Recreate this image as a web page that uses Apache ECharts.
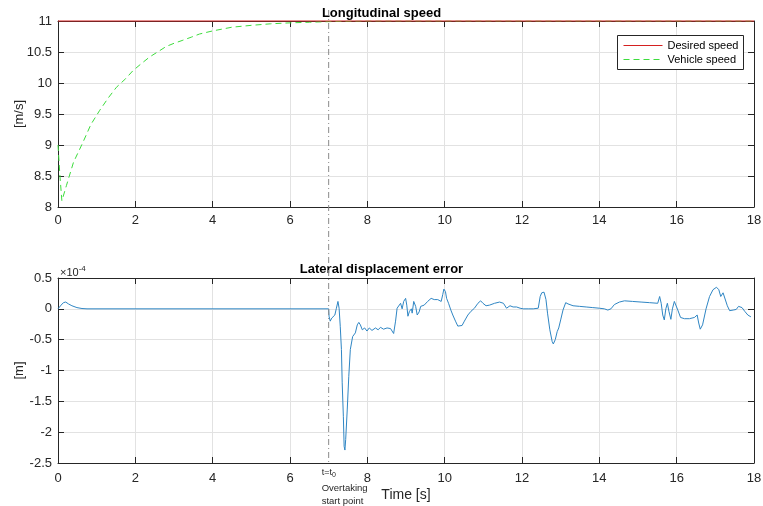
<!DOCTYPE html>
<html><head><meta charset="utf-8">
<script src="https://cdn.jsdelivr.net/npm/echarts@6/dist/echarts.min.js"></script>
<style>html,body{margin:0;padding:0;background:#fff}#c{width:763px;height:506px}</style>
</head><body><div id="c"></div>
<script>
// ---- data ----
const speedTime = [0, 0.05, 0.1, 0.22, 0.4, 0.65, 0.85, 1.08, 1.3, 1.51, 1.75, 1.94, 2.15, 2.37, 2.6, 2.8, 3.0, 3.23, 3.45, 3.66, 4.0, 4.5, 5.0, 5.5, 6.0, 6.5, 7.0, 8, 18];
const vehicleSpeed = [9.0, 8.5, 8.1, 8.35, 8.72, 9.05, 9.33, 9.56, 9.76, 9.93, 10.07, 10.2, 10.31, 10.42, 10.51, 10.59, 10.64, 10.69, 10.74, 10.79, 10.84, 10.9, 10.93, 10.955, 10.97, 10.98, 10.99, 11.0, 11.0];
const desiredTime = [0, 18];
const desiredSpeed = [11, 11];
const legendNames = ['Desired speed', 'Vehicle speed'];

const latTime = [
  0, 0.08, 0.14, 0.2, 0.27, 0.36, 0.49, 0.62, 0.75,
  7.0, 7.01, 7.04, 7.08, 7.12, 7.16, 7.2, 7.24, 7.27, 7.3,
  7.33, 7.35, 7.38, 7.4, 7.42, 7.44, 7.48, 7.52, 7.56, 7.62,
  7.69, 7.74, 7.78, 7.82, 7.87, 7.93, 7.99, 8.05, 8.12, 8.21,
  8.28, 8.34, 8.42, 8.51, 8.6, 8.68, 8.73, 8.77, 8.82, 8.86,
  8.9, 8.94, 8.99, 9.02, 9.05, 9.09, 9.14, 9.16, 9.2, 9.22,
  9.25, 9.29, 9.34, 9.38, 9.47, 9.56, 9.65, 9.73, 9.82, 9.91,
  9.95, 9.98, 10.02, 10.05, 10.1, 10.16, 10.21, 10.28, 10.34, 10.38,
  10.45, 10.51, 10.6, 10.68, 10.77, 10.86, 10.93, 10.99, 11.07, 11.16,
  11.29, 11.42, 11.52, 11.6, 11.69, 11.77, 11.86, 11.95, 12.03, 12.16,
  12.29, 12.42, 12.47, 12.51, 12.54, 12.57, 12.62, 12.66, 12.72, 12.78,
  12.81, 12.86, 12.91, 12.95, 13.0, 13.06, 13.13, 13.19, 13.32, 13.49,
  13.66, 13.83, 14.0, 14.13, 14.22, 14.3, 14.39, 14.52, 14.65, 14.86,
  15.08, 15.3, 15.51, 15.56, 15.58, 15.6, 15.64, 15.68, 15.72, 15.76,
  15.8, 15.85, 15.89, 15.94, 15.98, 16.03, 16.1, 16.2, 16.33, 16.46,
  16.53, 16.57, 16.61, 16.67, 16.76, 16.85, 16.94, 17.03, 17.09, 17.14,
  17.2, 17.24, 17.31, 17.37, 17.46, 17.54, 17.6, 17.69, 17.76, 17.84, 17.92
];
// lateral displacement error, in units of 1e-4 m
const latError = [
  0, 0.06, 0.1, 0.11, 0.08, 0.05, 0.02, 0.005, 0,
  0, -0.12, -0.2, -0.15, -0.18, -0.1, 0.01, 0.12, 0.01, -0.29,
  -0.66, -1.2, -1.75, -2.23, -2.29, -2.12, -1.64, -1.1, -0.66, -0.45,
  -0.39, -0.26, -0.22, -0.26, -0.34, -0.31, -0.36, -0.31, -0.35, -0.31,
  -0.34, -0.3, -0.33, -0.31, -0.32, -0.4, -0.2, 0.01, -0.02, 0.09,
  0.0, 0.12, 0.17, 0.06, -0.12, -0.04, 0.0, -0.07, 0.12, 0.15,
  0.04, -0.1, -0.05, 0.04, 0.06, 0.12, 0.17, 0.15, 0.15, 0.12,
  0.23, 0.32, 0.28, 0.17, 0.09, -0.02, -0.1, -0.2, -0.28, -0.3,
  -0.27, -0.2, -0.1, -0.04, 0.01, 0.09, 0.13, 0.09, 0.05, 0.06,
  0.09, 0.11, 0.09, 0.01, 0.05, 0.03, 0.03, 0.01, 0.0, 0.0,
  0.0, 0.01, 0.2, 0.26, 0.24, 0.27, 0.15, -0.07, -0.34, -0.53,
  -0.57, -0.5, -0.37, -0.31, -0.18, -0.02, 0.1, 0.08, 0.05, 0.04,
  0.03, 0.02, 0.01, 0.0, -0.02, 0.0, 0.07, 0.11, 0.13, 0.12,
  0.11, 0.1, 0.09, 0.2, 0.19, 0.09, -0.1, -0.18, 0.0, 0.09,
  -0.04, -0.17, 0.0, 0.12, 0.1, -0.02, -0.14, -0.16, -0.16, -0.14,
  -0.1, -0.23, -0.33, -0.26, 0.0, 0.2, 0.31, 0.35, 0.31, 0.2,
  0.26, 0.24, 0.05, -0.03, -0.02, -0.01, 0.04, 0.02, -0.04, -0.1, -0.13
];
const overtakeTime = 7;
const xRange = {min: 0, max: 18, interval: 2};
const speedRange = {min: 8, max: 11, interval: 0.5};
const latRange = {min: -2.5, max: 0.5, interval: 0.5};

// ---- chart ----
const FONT = 'Liberation Sans, Arial, sans-serif';
const AX = '#262626';
const GRIDC = '#e2e2e2';
const RED = '#d42020', GREEN = '#3ddc3d', BLUE = '#2f86c4';
const zip = (a, b) => a.map((v, i) => [v, b[i]]);

function axis(kind, gridIndex, position, range, main, extra, margin) {
  return Object.assign({
    type: 'value', gridIndex, position,
    min: range.min, max: range.max, interval: range.interval,
    axisLine: {show: true, onZero: false, lineStyle: {color: AX, width: 1}},
    axisTick: {show: true, inside: true, length: 6, lineStyle: {color: AX}},
    axisLabel: {show: main, color: AX, fontSize: 13, fontFamily: FONT, margin: margin || 6},
    splitLine: {show: main, lineStyle: {color: GRIDC, width: 1}}
  }, extra || {});
}

const chart = echarts.init(document.getElementById('c'), null, {renderer: 'canvas'});
const option = {
  backgroundColor: '#fff',
  animation: false,
  title: [
    {text: 'Longitudinal speed', left: 'center', top: 2,
     textStyle: {fontFamily: FONT, fontSize: 13, fontWeight: 'bold', color: '#000'}},
    {text: 'Lateral displacement error', left: 'center', top: 258,
     textStyle: {fontFamily: FONT, fontSize: 13, fontWeight: 'bold', color: '#000'}}
  ],
  grid: [
    {left: 58, right: 9, top: 21, height: 186, containLabel: false, outerBoundsMode: 'none'},
    {left: 58, right: 9, top: 278, height: 185, containLabel: false, outerBoundsMode: 'none'}
  ],
  xAxis: [
    axis('x', 0, 'bottom', xRange, true, null, 7),
    axis('x', 0, 'top', xRange, false),
    axis('x', 1, 'bottom', xRange, true, {
      name: 'Time [s]', nameLocation: 'middle', nameGap: 25, nameMoveOverlap: false,
      nameTextStyle: {fontFamily: FONT, fontSize: 14, color: AX}
    }, 9),
    axis('x', 1, 'top', xRange, false)
  ],
  yAxis: [
    axis('y', 0, 'left', speedRange, true, {
      name: '[m/s]', nameLocation: 'middle', nameGap: 32, nameMoveOverlap: false,
      nameTextStyle: {fontFamily: FONT, fontSize: 13, color: AX}
    }),
    axis('y', 0, 'right', speedRange, false),
    axis('y', 1, 'left', latRange, true, {
      name: '[m]', nameLocation: 'middle', nameGap: 32, nameMoveOverlap: false,
      nameTextStyle: {fontFamily: FONT, fontSize: 13, color: AX}
    }),
    axis('y', 1, 'right', latRange, false)
  ],
  series: [
    {name: legendNames[0], type: 'line', xAxisIndex: 0, yAxisIndex: 0,
     data: zip(desiredTime, desiredSpeed), symbol: 'none', clip: false,
     lineStyle: {color: RED, width: 1}, itemStyle: {color: RED}, z: 5},
    {name: legendNames[1], type: 'line', xAxisIndex: 0, yAxisIndex: 0,
     data: zip(speedTime, vehicleSpeed), symbol: 'none',
     lineStyle: {color: GREEN, width: 1, type: [6, 4]}, itemStyle: {color: GREEN}, z: 4},
    {name: 'Lateral displacement error', type: 'line', xAxisIndex: 2, yAxisIndex: 2,
     data: zip(latTime, latError), symbol: 'none',
     lineStyle: {color: BLUE, width: 1}, itemStyle: {color: BLUE}, z: 4}
  ]
};
chart.setOption(option);

// annotations placed through the axes' own conversion
const px = chart.convertToPixel({xAxisIndex: 0}, overtakeTime);
const yTop = chart.convertToPixel({yAxisIndex: 0}, speedRange.max);
const yBot = chart.convertToPixel({yAxisIndex: 2}, latRange.min);
const yLatTop = chart.convertToPixel({yAxisIndex: 2}, latRange.max);
const x0 = chart.convertToPixel({xAxisIndex: 2}, xRange.min);
const xEnd = chart.convertToPixel({xAxisIndex: 0}, xRange.max);

// legend box (MATLAB style, thin line samples)
const lgW = 126, lgH = 34;
const lgX = Math.round(xEnd - 11 - lgW) + 0.5, lgY = Math.round(yTop + 14) + 0.5;
const legendGroup = {
  type: 'group', z: 20, silent: true,
  children: [
    {type: 'rect', shape: {x: lgX, y: lgY, width: lgW, height: lgH},
     style: {fill: '#fff', stroke: AX, lineWidth: 1}},
    {type: 'line', shape: {x1: lgX + 6, y1: lgY + 10, x2: lgX + 45, y2: lgY + 10},
     style: {stroke: RED, lineWidth: 1}},
    {type: 'line', shape: {x1: lgX + 6, y1: lgY + 24, x2: lgX + 45, y2: lgY + 24},
     style: {stroke: GREEN, lineWidth: 1, lineDash: [6, 4]}},
    {type: 'text', x: lgX + 50, y: lgY + 10,
     style: {text: legendNames[0], fontFamily: FONT, fontSize: 11, fill: '#000', verticalAlign: 'middle'}},
    {type: 'text', x: lgX + 50, y: lgY + 24,
     style: {text: legendNames[1], fontFamily: FONT, fontSize: 11, fill: '#000', verticalAlign: 'middle'}}
  ]
};

chart.setOption({
  graphic: [
    {type: 'line', z: 10, silent: true,
     shape: {x1: px, y1: yTop - 11, x2: px, y2: yBot},
     style: {stroke: '#8a8a8a', lineWidth: 1, lineDash: [6, 3, 1, 3]}},
    {type: 'text', z: 10, left: px - 7, top: yBot + 5,
     style: {text: 't=t{s|0}', fontFamily: FONT, fontSize: 9, fill: AX,
       rich: {s: {fontSize: 7, padding: [6, 0, 0, 0], fontFamily: FONT, fill: AX}}}},
    {type: 'text', z: 10, left: px - 7, top: yBot + 19,
     style: {text: 'Overtaking\nstart point', fontFamily: FONT, fontSize: 9.5, lineHeight: 13, fill: AX}},
    {type: 'text', z: 10, left: x0 + 2, top: yLatTop - 13,
     style: {text: '×10{s|-4}', fontFamily: FONT, fontSize: 11, fill: AX,
       rich: {s: {fontSize: 8, padding: [0, 0, 7, 0], fontFamily: FONT, fill: AX}}}},
    legendGroup
  ]
});
</script>
</body></html>
